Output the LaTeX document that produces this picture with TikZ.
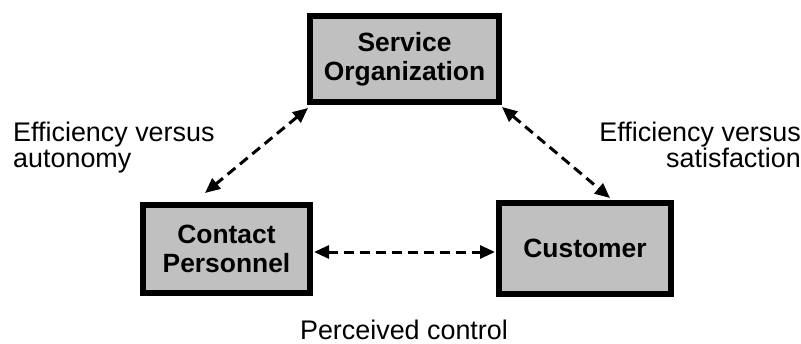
\documentclass[tikz,border=0pt]{standalone}
\usepackage{fontspec}
\setmainfont{Liberation Sans}
\usetikzlibrary{arrows.meta}
\definecolor{boxgray}{RGB}{192,192,192}
\begin{document}
\begin{tikzpicture}[x=1bp,y=1bp,
  box/.style={draw=black, line width=6bp, fill=boxgray, align=center,
    font=\bfseries\fontsize{26.5}{29}\selectfont, inner sep=0pt},
  link/.style={line width=3bp, dash pattern=on 10bp off 6bp,
    {Triangle[length=15bp,width=13bp]}-{Triangle[length=15bp,width=13bp]}},
  lbl/.style={font=\fontsize{27}{26}\selectfont, inner sep=0pt}]
\useasboundingbox (0,0) rectangle (801,343);

% the three parties
\node[box, minimum width=189bp, minimum height=86bp] (so) at (404.5,284) {Service\\Organization};
\node[box, minimum width=167bp, minimum height=88bp] (cp) at (226.5,94) {Contact\\Personnel};
\node[box, minimum width=172bp, minimum height=91bp] (cu) at (585,94.5) {Customer};

% tensions between them
\draw[link] ([xshift=1bp,yshift=-3bp]so.south west) -- ([xshift=65bp,yshift=9bp]cp.north west);
\draw[link] ([yshift=-2bp]so.south east) -- ([xshift=114bp,yshift=2bp]cu.north west);
\draw[link] ([xshift=1bp,yshift=-3bp]cp.east) -- ([xshift=-1bp,yshift=-3.5bp]cu.west);

% labels
\node[lbl, anchor=north west, align=left] (effl) at (13,221) {Efficiency versus\\autonomy};
\node[lbl, anchor=north east, align=right] (effr) at (801,221) {Efficiency versus\\satisfaction};
\node[lbl, anchor=base] (pc) at (404,4) {Perceived control};
\end{tikzpicture}
\end{document}
